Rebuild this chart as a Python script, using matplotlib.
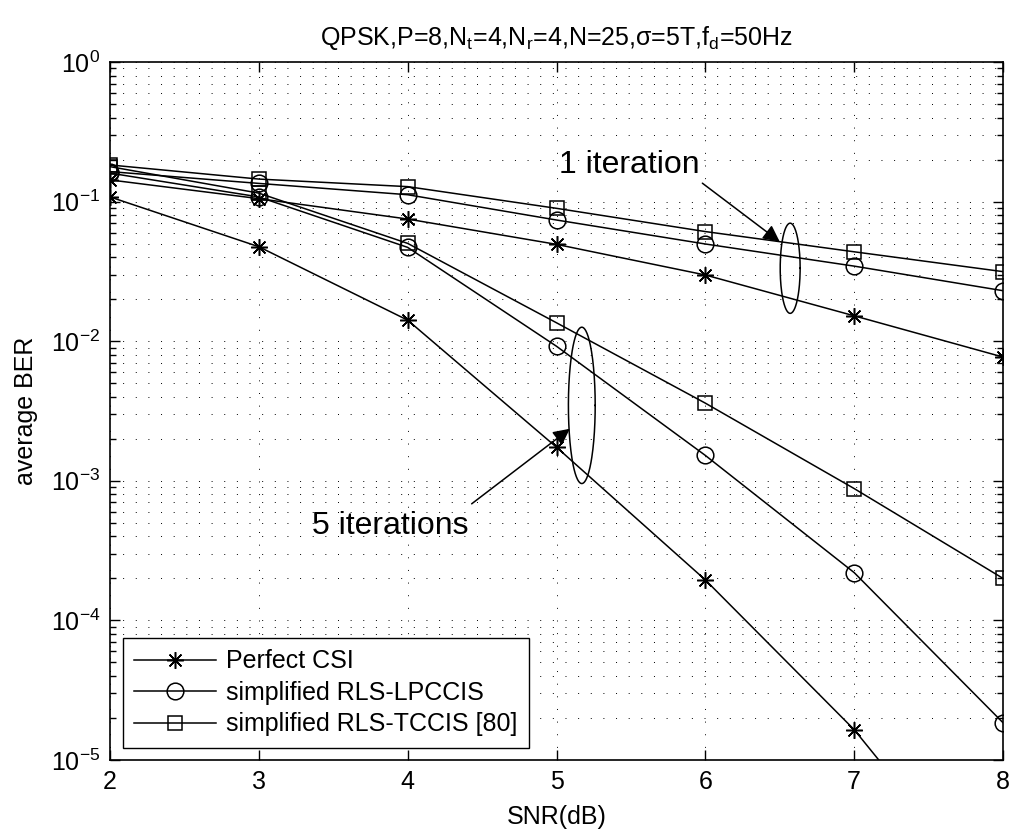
import numpy as np
import matplotlib
matplotlib.use("Agg")
import matplotlib.pyplot as plt

plt.rcParams['font.family'] = ['Liberation Sans', 'DejaVu Sans']
plt.rcParams['mathtext.fontset'] = 'custom'
plt.rcParams['mathtext.rm'] = 'Liberation Sans'
plt.rcParams['mathtext.it'] = 'Liberation Sans'
plt.rcParams['mathtext.default'] = 'regular'

snr = [2, 3, 4, 5, 6, 7, 8]

# 1 iteration
perfect_1 = [0.143, 0.105, 0.075, 0.0494, 0.0298, 0.0152, 0.0077]
lpccis_1 = [0.164, 0.135, 0.112, 0.0738, 0.0497, 0.0345, 0.023]
tccis_1 = [0.183, 0.145, 0.128, 0.0895, 0.061, 0.0437, 0.0315]

# 5 iterations
perfect_5 = [0.108, 0.0475, 0.01415, 0.00174, 0.000195, 1.65e-5, 8e-7]
lpccis_5 = [0.16, 0.108, 0.047, 0.0092, 0.00152, 0.00022, 1.85e-5]
tccis_5 = [0.178, 0.115, 0.0502, 0.01355, 0.0036, 0.00088, 0.0002]

legend_labels = ['Perfect CSI', 'simplified RLS-LPCCIS', 'simplified RLS-TCCIS [80]']
title_text = r'QPSK,P=8,N$_t$=4,N$_r$=4,N=25,$\sigma$=5T,f$_d$=50Hz'

W, H = 1019, 836
fig = plt.figure(figsize=(W/100, H/100), dpi=100)
ax = fig.add_axes([110/W, 1-760/H, (1003-110)/W, (760-62)/H])

star = (8, 2, 0)
kw = dict(color='black', lw=1.1, mfc='none', mec='black', mew=1.1)
ax.plot(snr, perfect_1, marker=star, ms=12, label=legend_labels[0], **kw)
ax.plot(snr, lpccis_1, marker='o', ms=12, label=legend_labels[1], **kw)
ax.plot(snr, tccis_1, marker='s', ms=9.5, label=legend_labels[2], **kw)
ax.plot(snr, perfect_5, marker=star, ms=12, **kw)
ax.plot(snr, lpccis_5, marker='o', ms=12, **kw)
ax.plot(snr, tccis_5, marker='s', ms=9.5, **kw)

ax.set_yscale('log')
ax.set_xlim(2, 8)
ax.set_ylim(1e-5, 1)
ax.set_xticks(snr)

grid_ls = (0, (1, 12))
ax.grid(True, which='major', axis='both', color='black', lw=0.7, ls=grid_ls)
ax.grid(True, which='minor', axis='y', color='black', lw=0.7, ls=grid_ls)
ax.set_axisbelow(True)

ax.tick_params(which='both', direction='in', top=True, right=True, labelsize=18, width=1, pad=7)
ax.tick_params(which='major', length=7)
ax.tick_params(which='minor', length=4)
for s in ax.spines.values():
    s.set_linewidth(1.2)

ax.set_xlabel('SNR(dB)', fontsize=18)
ax.set_ylabel('average BER', fontsize=18)
ax.xaxis.set_label_coords(0.5, -(805-760)/698)
ax.yaxis.set_label_coords(-(110-38)/893, 0.5)
ax.set_title(title_text, fontsize=18, pad=12)

leg = ax.legend(loc='lower left', fontsize=18, frameon=True, fancybox=False,
                edgecolor='black', framealpha=1, handlelength=3.3, handletextpad=0.4,
                borderaxespad=0.5, borderpad=0.45, labelspacing=0.3)
leg.get_frame().set_linewidth(1.0)

# annotation ellipses drawn in data space (log y)
def log_ellipse(cx, cy, wx, hdec):
    t = np.linspace(0, 2*np.pi, 200)
    xs = cx + wx/2*np.cos(t)
    ys = 10**(np.log10(cy) + hdec/2*np.sin(t))
    ax.plot(xs, ys, color='black', lw=1.1)

log_ellipse(6.57, 0.0333, 0.134, 0.646)
log_ellipse(5.17, 0.00347, 0.18, 1.12)

arrow = dict(arrowstyle='-|>', color='black', lw=1.1, mutation_scale=25, shrinkA=0, shrinkB=0)
ax.annotate('', xy=(6.50, 0.0516), xytext=(5.98, 0.1355), arrowprops=arrow)
ax.annotate('', xy=(5.09, 0.00236), xytext=(4.43, 6.84e-4), arrowprops=arrow)
ax.text(5.02, 0.183, '1 iteration', fontsize=23, va='center', ha='left')
ax.text(3.356, 4.78e-4, '5 iterations', fontsize=23, va='center', ha='left')

fig.savefig('out.png', dpi=100)
